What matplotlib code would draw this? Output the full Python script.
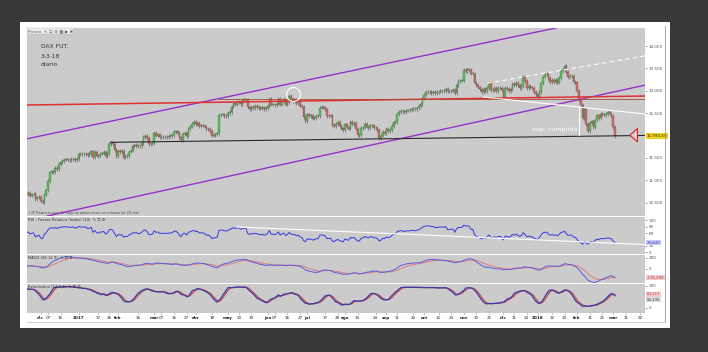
import numpy as np
import pandas as pd
import matplotlib
matplotlib.use("Agg")
import matplotlib.pyplot as plt
from matplotlib.patches import Rectangle
from matplotlib.lines import Line2D

# cierres diarios DAX futuro (aprox.)
nov16 = [10526, 10370, 10325, 10259, 10456, 10482, 10646, 10630, 10668, 10693, 10735,
         10664, 10686, 10664, 10685, 10714, 10662, 10689, 10700, 10582, 10620, 10640]
dic16 = [10534, 10513, 10684, 10775, 10986, 11179, 11203, 11190, 11284, 11244, 11366,
         11404, 11427, 11464, 11468, 11456, 11450, 11472, 11475, 11451, 11481]
ene17 = [11598, 11584, 11585, 11584, 11599, 11563, 11583, 11646, 11521, 11630, 11554,
         11540, 11599, 11599, 11630, 11545, 11594, 11806, 11848, 11815, 11682, 11535]
feb17 = [11659, 11627, 11651, 11509, 11549, 11543, 11643, 11666, 11774, 11771, 11794,
         11757, 11757, 11827, 11967, 11998, 11947, 11804, 11822, 11834]
mar17 = [12067, 11999, 12027, 11959, 11967, 11967, 11978, 11963, 11990, 11988, 12009,
         12083, 12095, 12052, 11962, 11904, 12040, 12064, 11996, 12149, 12203, 12257, 12313]
abr17 = [12257, 12282, 12218, 12230, 12225, 12200, 12139, 12154, 12109, 12000, 12016,
         12027, 12049, 12455, 12467, 12472, 12443, 12438]
may17 = [12507, 12527, 12648, 12717, 12694, 12749, 12757, 12711, 12770, 12808, 12804,
         12631, 12590, 12638, 12619, 12659, 12642, 12621, 12602, 12628, 12599, 12615]
jun17 = [12664, 12822, 12690, 12690, 12675, 12714, 12816, 12691, 12765, 12806, 12692,
         12753, 12888, 12814, 12775, 12794, 12733, 12771, 12671, 12647, 12416, 12325]
jul17 = [12475, 12437, 12452, 12381, 12389, 12445, 12437, 12627, 12641, 12631, 12587,
         12430, 12448, 12447, 12240, 12208, 12264, 12305, 12212, 12162, 12118]
ago17 = [12251, 12181, 12154, 12297, 12257, 12292, 12154, 12014, 12014, 12165, 12177,
         12263, 12203, 12165, 12229, 12230, 12174, 12168, 12123, 11946, 12002, 12081, 12055]
sep17 = [12142, 12102, 12123, 12214, 12296, 12303, 12475, 12524, 12553, 12540, 12519,
         12559, 12561, 12569, 12600, 12592, 12594, 12605, 12657, 12704, 12829]
oct17 = [12902, 12971, 12968, 12970, 12955, 12976, 12950, 12970, 12982, 12991, 13003,
         12995, 13044, 12990, 12991, 13003, 13013, 12953, 13134, 13217, 13229, 13229]
nov17 = [13465, 13440, 13479, 13468, 13382, 13383, 13183, 13127, 13074, 13033, 12976,
         13047, 12994, 13059, 13168, 13015, 13008, 13060, 13000, 13060, 13061, 13024]
dic17 = [12861, 13058, 13048, 12998, 13045, 13153, 13124, 13183, 13125, 13068, 13104,
         13312, 13216, 13069, 13109, 13072, 13070, 12979, 12918]
ene18 = [12871, 12978, 13167, 13319, 13367, 13385, 13281, 13202, 13245, 13200, 13246,
         13184, 13282, 13434, 13463, 13559, 13414, 13298, 13340, 13324, 13197, 13189]
feb18 = [13003, 12785, 12688, 12392, 12590, 12260, 12107, 12282, 12315, 12196, 12339,
         12451, 12385, 12488, 12470, 12461, 12484, 12527, 12490, 12436]
mar18 = [12190, 11990.5]

cierres = (nov16 + dic16 + ene17 + feb17 + mar17 + abr17 + may17 + jun17 + jul17 +
           ago17 + sep17 + oct17 + nov17 + dic17 + ene18 + feb18 + mar18)

festivos = ["2016-12-26", "2017-04-14", "2017-04-17", "2017-05-01",
            "2017-12-25", "2017-12-26", "2018-01-01"]

# lineas dibujadas a mano sobre el grafico (fecha, precio)
canal_sup = [("2016-11-25", 11960), ("2018-01-08", 14350)]
canal_inf = [("2016-12-02", 10183), ("2017-06-12", 11344)]
roja = [("2016-11-22", 12683), ("2018-01-02", 12849)]
marron = ("2017-04-24", 12820)
negra = [("2017-01-26", 11850), ("2018-02-09", 11987)]
blanca_disc = [("2017-11-20", 13170), ("2018-01-23", 13470)]
blanca = [("2017-11-16", 12860), ("2018-02-27", 12565)]
vertical = ("2018-02-02", 12010, 12630)
circulo = ("2017-06-21", 12935)
rsi_linea = [("2017-05-09", 79.5), ("2018-02-09", 31.4)]
precio_actual = 11990.5

fechas_eje = ["2016-12-01", "2016-12-07", "2016-12-16", "2017-01-02", "2017-01-17", "2017-01-25",
              "2017-02-01", "2017-02-16", "2017-03-01", "2017-03-07", "2017-03-16", "2017-03-27",
              "2017-04-03", "2017-04-18", "2017-05-02", "2017-05-10", "2017-05-19", "2017-06-01",
              "2017-06-07", "2017-06-16", "2017-06-27", "2017-07-03", "2017-07-17", "2017-07-26",
              "2017-08-01", "2017-08-10", "2017-08-24", "2017-09-01", "2017-09-11", "2017-09-22",
              "2017-10-02", "2017-10-12", "2017-10-23", "2017-11-01", "2017-11-10", "2017-11-21",
              "2017-12-01", "2017-12-11", "2017-12-20", "2018-01-02", "2018-01-12", "2018-01-23",
              "2018-02-01", "2018-02-11", "2018-02-21", "2018-03-01", "2018-03-11", "2018-03-22"]
textos_eje = ["dic", "07", "16", "2017", "17", "26", "feb", "16", "mar", "07", "16", "27",
              "abr", "18", "may", "10", "19", "jun", "07", "16", "27", "jul", "17", "28",
              "ago", "10", "24", "sep", "11", "22", "oct", "12", "23", "nov", "10", "21",
              "dic", "11", "22", "2018", "12", "23", "feb", "11", "21", "mar", "11", "22"]

precio_ticks = [10500, 11000, 11500, 12500, 13000, 13500, 14000]

# calendario de sesiones
cal = pd.bdate_range("2016-11-01", "2018-03-30")
cal = cal[~cal.isin(pd.to_datetime(festivos))]


def pos(fecha):
    return cal.get_indexer([pd.Timestamp(fecha)], method="bfill")[0]


c = np.array(cierres, dtype=float)
idx = np.arange(len(c))
o = np.r_[c[0], c[:-1]]
hi = np.maximum(o, c) + 40
lo = np.minimum(o, c) - 40

# indicadores
s = pd.Series(c)
d = s.diff().fillna(0)
sube = d.clip(lower=0).ewm(alpha=1 / 14, adjust=False).mean()
baja = (-d.clip(upper=0)).ewm(alpha=1 / 14, adjust=False).mean()
rsi = 100 - 100 / (1 + sube / baja)
macd = s.ewm(span=12, adjust=False).mean() - s.ewm(span=26, adjust=False).mean()
senal = macd.ewm(span=9, adjust=False).mean()
ll = pd.Series(lo).rolling(14, min_periods=1).min()
hh = pd.Series(hi).rolling(14, min_periods=1).max()
k = (100 * (s - ll) / (hh - ll)).rolling(6, min_periods=1).mean()
dd = k.rolling(3, min_periods=1).mean()

W, H = 708, 352
x0 = pos("2016-12-01") - 13.8 / 1.8
x1 = x0 + 618 / 1.8

fig = plt.figure(figsize=(7.08, 3.52), dpi=100, facecolor="#383838")
fig.add_artist(Rectangle((20 / W, 1 - 328 / H), 650 / W, 306 / H, transform=fig.transFigure,
                         fc="white", ec="none", zorder=-5))


def panel(y0, y1):
    ax = fig.add_axes([27 / W, 1 - y1 / H, 618 / W, (y1 - y0) / H], facecolor="#cbcbcb")
    for sp in ax.spines.values():
        sp.set_visible(False)
    ax.set_xlim(x0, x1)
    ax.yaxis.tick_right()
    ax.tick_params(axis="y", labelsize=3, pad=1, length=1.5, width=0.4, colors="#555")
    ax.tick_params(axis="x", bottom=False, labelbottom=False)
    return ax


ax1 = panel(28, 216)
ax2 = panel(217, 254)
ax3 = panel(255, 283)
ax4 = panel(284, 313)

# precio
ax1.set_ylim(10205, 14402)
ax1.set_yticks(precio_ticks, [f"{v:,.0f}".replace(",", ".") for v in precio_ticks])
ax1.vlines(idx, lo, hi, color="#4a4a4a", lw=0.4, zorder=2)
alc = c >= o
cuerpo = np.maximum(np.abs(c - o), 10)
base = np.minimum(o, c)
ax1.bar(idx[alc], cuerpo[alc], bottom=base[alc], width=0.8, color="#5cbf5c",
        edgecolor="#357535", lw=0.25, zorder=3)
ax1.bar(idx[~alc], cuerpo[~alc], bottom=base[~alc], width=0.8, color="#cc6e6e",
        edgecolor="#824040", lw=0.25, zorder=3)


def punto(p):
    return (pos(p[0]), p[1])


def rayo(ax, p1, p2, **kw):
    xa, va = punto(p1)
    xb, vb = punto(p2)
    m = (vb - va) / (xb - xa)
    ax.plot([xa, x1], [va, va + m * (x1 - xa)], **kw)


ax1.axline(punto(canal_sup[0]), punto(canal_sup[1]), color="#9632c8", lw=1.0, zorder=4)
ax1.axline(punto(canal_inf[0]), punto(canal_inf[1]), color="#9632c8", lw=1.0, zorder=4)
ax1.axline(punto(roja[0]), punto(roja[1]), color="#e03030", lw=1.1, zorder=4)
ax1.plot([pos(marron[0]), x1], [marron[1], marron[1]], color="#a84a30", lw=0.6, zorder=4)
rayo(ax1, negra[0], negra[1], color="#2a2a2a", lw=0.8, zorder=4)
rayo(ax1, blanca_disc[0], blanca_disc[1], color="white", lw=0.8, dashes=(4, 3), zorder=4)
rayo(ax1, blanca[0], blanca[1], color="white", lw=0.8, zorder=4)
xv = pos(vertical[0])
ax1.plot([xv, xv], [vertical[1], vertical[2]], color="white", lw=0.8, zorder=4)
ax1.text(xv - 1, 12141, "exp. cumplida", color="white", fontsize=4.6, ha="right", va="center", zorder=5)
ax1.plot(*punto(circulo), "o", ms=10, mfc="none", mec="white", mew=0.8, zorder=5)
ax1.annotate("", xy=(0.971, precio_actual + 20), xytext=(0.992, precio_actual + 20),
             xycoords=("axes fraction", "data"), textcoords=("axes fraction", "data"),
             arrowprops=dict(arrowstyle="simple,head_length=0.55,head_width=0.95,tail_width=0.45",
                             fc="#dcd0d0", ec="#e02020", lw=0.8, mutation_scale=10), zorder=6)
ax1.text(1.003, precio_actual, f"{precio_actual:,.2f}".replace(",", "X").replace(".", ",").replace("X", "."),
         transform=ax1.get_yaxis_transform(), fontsize=3, va="center", ha="left", color="#333",
         bbox=dict(fc="#f2d21b", ec="none", pad=0.6), zorder=10, clip_on=False)
ax1.text(0.002, 0.995, "Precio  \u270e \u2610 \u2699 \u25a3 \u25b6 \u2716", transform=ax1.transAxes, fontsize=3.2,
         va="top", color="#555", bbox=dict(fc="#eeeeee", ec="#aaaaaa", lw=0.3, pad=0.6))
ax1.text(0.002, 0.004, "\u00a9IT-Finance.com: El flujo de datos tiene un retraso de 15 min",
         transform=ax1.transAxes, fontsize=2.6, style="italic", va="bottom", color="#444")

fig.text(41 / W, 1 - 47 / H, "DAX FUT.", fontsize=4.3, color="#333", va="center")
fig.text(41 / W, 1 - 56 / H, "3-3-18", fontsize=4.3, color="#333", va="center")
fig.text(41 / W, 1 - 65 / H, "diario", fontsize=4.3, color="#333", va="center")

# RSI
ax2.set_ylim(-6.3, 111)
ax2.set_yticks([0, 20, 60, 80, 100])
ax2.plot(idx, rsi, color="#3838e0", lw=0.7)
rayo(ax2, rsi_linea[0], rsi_linea[1], color="white", lw=0.8)
ax2.text(0.002, 0.97, "RSI - Fuerza Relativa (Index) (14)  \u270e \u2610 \u2699", transform=ax2.transAxes,
         fontsize=2.7, va="top", color="#333")
ax2.text(1.003, rsi.iloc[-1], f"{rsi.iloc[-1]:.3f}".replace(".", ","), transform=ax2.get_yaxis_transform(),
         fontsize=2.8, va="center", color="#3838c0", bbox=dict(fc="#c8ccf2", ec="none", pad=0.5),
         clip_on=False, zorder=10)

# MACD
ax3.set_ylim(-276, 257)
ax3.set_yticks([0, 200])
ax3.plot(idx, senal, color="#e07c7c", lw=0.7)
ax3.plot(idx, macd, color="#5a5ae0", lw=0.7)
ax3.text(0.002, 0.96, "MACD (26 12 9)  \u270e \u2610 \u2699", transform=ax3.transAxes,
         fontsize=2.7, va="top", color="#333")
ax3.text(1.003, macd.iloc[-1], f"{macd.iloc[-1]:.3f}".replace(".", ","), transform=ax3.get_yaxis_transform(),
         fontsize=2.8, va="center", color="#c03030", bbox=dict(fc="#f2cccc", ec="none", pad=0.5),
         clip_on=False, zorder=10)

# estocastico
ax4.set_ylim(-24, 107.7)
ax4.set_yticks([0, 100])
ax4.plot(idx, dd, color="#c85050", lw=0.9)
ax4.plot(idx, k, color="#3a3aa8", lw=0.9)
ax4.text(0.002, 0.96, "Estoc\u00e1stico (14 6 3)  \u270e \u2610 \u2699", transform=ax4.transAxes,
         fontsize=2.7, va="top", color="#333")
arriba = max(k.iloc[-1], dd.iloc[-1])
abajo = min(arriba - 24, min(k.iloc[-1], dd.iloc[-1]))
ax4.text(1.003, arriba, f"{dd.iloc[-1]:.3f}".replace(".", ","), transform=ax4.get_yaxis_transform(),
         fontsize=2.8, va="center", color="#c03030", bbox=dict(fc="#f2cccc", ec="none", pad=0.5),
         clip_on=False, zorder=10)
ax4.text(1.003, abajo, f"{k.iloc[-1]:.3f}".replace(".", ","), transform=ax4.get_yaxis_transform(),
         fontsize=2.8, va="center", color="#333", bbox=dict(fc="#dddddd", ec="none", pad=0.5),
         clip_on=False, zorder=10)

pos_eje = [pos(f) for f in fechas_eje]
ax4.set_xticks(pos_eje, textos_eje)
ax4.tick_params(axis="x", bottom=True, labelbottom=True, labelsize=3.0, pad=1.2,
                length=1, width=0.4, colors="#222")
for t in ax4.get_xticklabels():
    if not t.get_text().isdigit() or len(t.get_text()) == 4:
        t.set_fontweight("bold")

# marco derecho e inferior
fig.add_artist(Line2D([665 / W, 665 / W], [1 - 26 / H, 1 - 322 / H], color="#9a9a9a", lw=0.6))
fig.add_artist(Line2D([27 / W, 665 / W], [1 - 322 / H, 1 - 322 / H], color="#bdbdbd", lw=0.5))

fig.savefig("out.png", dpi=100, facecolor=fig.get_facecolor())
